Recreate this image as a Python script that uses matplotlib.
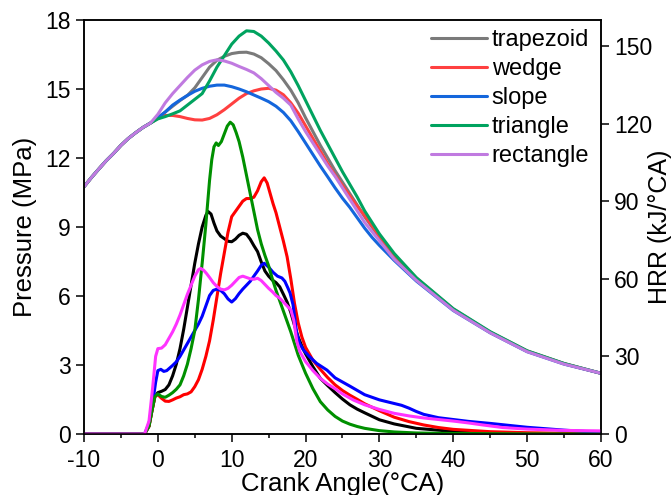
import matplotlib
matplotlib.use("Agg")
import matplotlib.pyplot as plt
from matplotlib.ticker import MultipleLocator
import numpy as np

plt.rcParams['font.family'] = ['Liberation Sans', 'DejaVu Sans']
plt.rcParams['axes.unicode_minus'] = False

# ---------------- Pressure data (MPa) ----------------
p_common_x = [-10, -9, -8, -7, -6, -5, -4, -3, -2, -1]
p_common = [10.75, 11.15, 11.52, 11.88, 12.2, 12.55, 12.85, 13.1, 13.33, 13.52]

p_x = [0, 1, 2, 3, 4, 5, 6, 7, 8, 9, 10, 11, 12, 13, 14, 15, 16, 17, 18, 19,
       20, 21, 22, 23, 24, 25, 26, 27, 28, 29, 30, 32, 35, 40, 45, 50, 55, 60]

p_trapezoid = [13.75, 14.0, 14.25, 14.5, 14.72, 15.05, 15.5, 15.95, 16.25, 16.42,
               16.54, 16.59, 16.6, 16.52, 16.36, 16.1, 15.8, 15.4, 14.95, 14.4,
               13.75, 13.15, 12.55, 12.0, 11.45, 10.95, 10.45, 9.95, 9.45, 9.0,
               8.55, 7.75, 6.75, 5.42, 4.42, 3.6, 3.06, 2.64]
p_wedge = [13.72, 13.85, 13.85, 13.8, 13.72, 13.66, 13.65, 13.72, 13.88, 14.1,
           14.35, 14.6, 14.8, 14.92, 15.0, 15.03, 14.95, 14.75, 14.4, 13.95,
           13.4, 12.85, 12.3, 11.75, 11.25, 10.8, 10.35, 9.9, 9.5, 9.05,
           8.6, 7.8, 6.78, 5.43, 4.43, 3.61, 3.06, 2.64]
p_slope = [13.75, 14.0, 14.3, 14.52, 14.72, 14.9, 15.03, 15.12, 15.17, 15.17,
           15.1, 15.0, 14.88, 14.74, 14.6, 14.45, 14.25, 13.98, 13.62, 13.15,
           12.65, 12.15, 11.65, 11.18, 10.7, 10.25, 9.85, 9.4, 8.95, 8.55,
           8.2, 7.55, 6.65, 5.37, 4.4, 3.58, 3.04, 2.64]
p_triangle = [13.7, 13.8, 13.92, 14.05, 14.3, 14.55, 14.8, 15.35, 15.95, 16.45,
              16.95, 17.3, 17.53, 17.5, 17.3, 17.0, 16.65, 16.26, 15.75, 15.15,
              14.5, 13.85, 13.2, 12.6, 12.0, 11.4, 10.85, 10.3, 9.7, 9.2,
              8.7, 7.85, 6.8, 5.45, 4.45, 3.62, 3.07, 2.64]
p_rectangle = [13.9, 14.4, 14.8, 15.15, 15.5, 15.82, 16.05, 16.2, 16.27, 16.22,
               16.12, 15.98, 15.85, 15.7, 15.45, 15.15, 14.85, 14.6, 14.3, 13.7,
               13.15, 12.65, 12.15, 11.65, 11.2, 10.7, 10.2, 9.7, 9.2, 8.8,
               8.4, 7.6, 6.68, 5.38, 4.4, 3.58, 3.04, 2.64]

# ---------------- HRR data (kJ/°CA) ----------------
h_trap_x = [-10, -1.8, -1.2, -0.8, -0.4, 0, 0.5, 1, 1.5, 2, 2.5, 3, 3.5, 4, 4.5, 5,
            5.5, 6, 6.5, 6.8, 7.2, 7.6, 8, 8.5, 9, 9.5, 10, 10.5, 11, 11.5, 12,
            12.5, 13, 13.5, 14, 14.5, 15, 15.5, 16, 16.5, 17, 17.5, 18, 18.5, 19,
            19.5, 20, 21, 22, 23, 24, 25, 26, 27, 28, 30, 32, 35, 40, 45, 50, 60]
h_trap = [0, 0, 3, 9, 14.5, 16, 16.5, 17.2, 19, 22.5, 27, 33, 40.5, 49, 57.5, 66,
          73.5, 80, 84.5, 86, 85, 81.5, 78.5, 76.5, 75.5, 74.5, 74.3, 75.3, 76.8, 77.6, 77.2,
          75.3, 72.8, 70.5, 66.5, 63, 61, 59.5, 58.5, 56.9, 54, 51, 47, 42, 37.5,
          34, 31, 26, 21.5, 18.7, 16, 13.5, 11.3, 9.6, 8.2, 5.5, 3.9, 2.2, 1.0, 0.4, 0.2, 0]

h_wedge_x = [-10, -1.8, -1.2, -0.8, -0.4, 0, 0.5, 1, 1.5, 2, 2.5, 3, 3.5, 4, 4.5, 5,
             5.5, 6, 6.5, 7, 7.5, 8, 8.5, 9, 9.5, 10, 10.5, 11, 11.5, 12, 12.5, 13,
             13.5, 14, 14.4, 14.8, 15.2, 15.6, 16, 16.5, 17, 17.5, 18, 18.5, 19,
             19.5, 20, 21, 22, 23, 24, 25, 26, 27, 28, 30, 32, 34, 36, 38, 40, 45,
             50, 55, 60]
h_wedge = [0, 0, 3, 9, 14.5, 15.2, 13.8, 12.7, 12.6, 13.2, 13.9, 14.4, 15.2, 15.5, 16.3, 18.3,
           21, 25, 30, 36, 44, 53, 62, 70, 78, 84, 86, 88, 90, 91, 91, 91.5,
           94, 97.5, 99, 97, 93, 89, 85.5, 80, 74.5, 68.5, 60, 50.5, 43,
           37.5, 33.5, 28.5, 25, 21.8, 19, 16.8, 15, 13.4, 11.7, 9, 6.5, 4.8, 3.5, 2.5, 1.8, 0.9,
           0.5, 0.3, 0.2]

h_slope_x = [-10, -1.8, -1.2, -0.7, -0.3, 0, 0.4, 0.8, 1.2, 1.6, 2, 2.5, 3, 3.5, 4, 4.5,
             5, 5.5, 6, 6.5, 7, 7.5, 8, 8.5, 9, 9.5, 10, 10.5, 11, 11.5, 12, 12.5,
             13, 13.5, 14, 14.4, 15, 15.6, 16.2, 16.8, 17.2, 17.6, 17.9, 18.3, 18.8,
             19.2, 19.7, 20.5, 21.5, 22.9, 24, 26, 28, 30, 31, 32, 33, 34, 35, 36,
             38, 40, 42, 45, 47, 50, 55, 60]
h_slope = [0, 0, 4, 12, 20, 24.5, 25, 24.2, 24.5, 25.5, 26.5, 27.9, 30, 32.5, 35, 37.5,
           40, 42.5, 45.5, 49.5, 53.5, 55.5, 56, 55.5, 54.2, 52.2, 51, 52.3, 54.3, 56, 57.5, 59,
           61, 63, 65.2, 66, 64.5, 62.5, 61, 60.3, 59, 56.5, 54.5, 50, 39,
           35, 32.5, 30, 27.3, 24.7, 21.7, 18.5, 15.2, 13.2, 12.5, 11.8, 11.1, 10, 8.7, 7.6,
           6.3, 5.6, 4.9, 4.1, 3.5, 2.6, 1.5, 0.6]

h_tri_x = [-10, -1.8, -1.2, -0.8, -0.4, 0, 0.5, 1, 1.5, 2, 2.5, 3, 3.5, 4, 4.5, 5,
           5.5, 6, 6.5, 7, 7.3, 7.6, 7.9, 8.2, 8.6, 9, 9.4, 9.8, 10.2, 10.6, 11,
           11.5, 12, 12.5, 13, 13.5, 14, 14.5, 15, 15.5, 16, 16.5, 17, 17.5, 18,
           18.5, 19, 19.5, 20, 21, 22, 23, 24, 25, 26, 27, 28, 30, 32, 35, 40, 50, 60]
h_triangle = [0, 0, 3, 9, 14.5, 15.5, 14.5, 14.2, 15, 16, 17.3, 19, 22.5, 27, 33, 40,
              52, 66, 81, 98, 106, 111, 112.5, 111.5, 113, 116, 119, 120.5, 119.5, 116.5, 113,
              107, 100, 93, 86, 79, 73.5, 69, 65, 60, 55.5, 51.5, 47.5, 43.5, 39.5,
              35, 30.5, 27, 23.5, 17.5, 12.5, 9.3, 6.8, 5, 3.8, 2.9, 2.2, 1.3, 0.8, 0.4, 0.2, 0.05, 0]

h_rect_x = [-10, -1.8, -1.2, -0.7, -0.3, 0, 0.5, 1, 1.5, 2, 2.5, 3, 3.5, 4, 4.5, 5,
            5.5, 5.8, 6.2, 6.6, 7, 7.5, 8, 8.5, 9, 9.5, 10, 10.5, 11, 11.5, 12, 12.5,
            13, 13.5, 14, 14.5, 15, 15.5, 16, 16.5, 17, 17.5, 18, 18.4, 18.8, 19.2,
            20, 21, 22, 23, 24, 25, 26.5, 28, 30, 32, 34, 36, 38, 40, 42, 44, 46.7,
            50, 55, 60]
h_rectangle = [0, 0, 5, 18, 30, 33, 33.2, 34.5, 37, 39.5, 42.5, 46, 50, 54, 57.5, 61,
               63.5, 64, 63.3, 62, 60.5, 58.5, 57, 56, 55.7, 56.3, 57.5, 59, 60.5, 61, 60.5, 60,
               59.8, 60.2, 59.3, 57.8, 56.3, 55, 53.5, 52.5, 51, 49.5, 48, 44, 36, 32,
               28, 24.5, 21.5, 19.3, 17.5, 15.5, 13.1, 11.3, 9.5, 8.0, 7.0, 6.2, 5.6, 5.0, 4.3, 3.5, 2.5,
               1.9, 1.4, 1.2]

labels = ['trapezoid', 'wedge', 'slope', 'triangle', 'rectangle']
p_colors = ['#7a7a7a', '#ff4040', '#1466dc', '#00a35f', '#c07ae0']
h_colors = ['#000000', '#ff0000', '#0000ff', '#009000', '#ff33ff']

x_ticks = [-10, 0, 10, 20, 30, 40, 50, 60]
p_ticks = [0, 3, 6, 9, 12, 15, 18]
h_ticks = [0, 30, 60, 90, 120, 150]

fig = plt.figure(figsize=(6.72, 4.95), dpi=100)
ax = fig.add_axes([0.125, 0.1232, 0.7693, 0.8364])
ax2 = ax.twinx()

p_series = [p_trapezoid, p_wedge, p_slope, p_triangle, p_rectangle]
handles = []
for lab, col, ys in zip(labels, p_colors, p_series):
    h, = ax.plot(p_common_x + p_x, p_common + ys, color=col, lw=2.2, label=lab,
                 solid_joinstyle='round', solid_capstyle='round')
    handles.append(h)

h_series = [(h_trap_x, h_trap), (h_wedge_x, h_wedge), (h_slope_x, h_slope),
            (h_tri_x, h_triangle), (h_rect_x, h_rectangle)]
for col, (xs, ys) in zip(h_colors, h_series):
    ax2.plot(xs, ys, color=col, lw=2.2, solid_joinstyle='round', solid_capstyle='round')

ax.set_xlim(-10, 60)
ax.set_ylim(0, 18)
ax2.set_ylim(0, 160)
ax.set_xticks(x_ticks)
ax.xaxis.set_minor_locator(MultipleLocator(5))
ax.set_yticks(p_ticks)
ax2.set_yticks(h_ticks)

for a in (ax, ax2):
    for s in a.spines.values():
        s.set_linewidth(1.1)
ax.tick_params(axis='both', which='major', direction='out', length=5.5, width=1.1,
               labelsize=16.5, pad=4)
ax.tick_params(axis='x', which='minor', direction='out', length=3, width=1.1)
ax.tick_params(axis='x', which='major', pad=5)
ax2.tick_params(axis='y', which='major', direction='out', length=5.5, width=1.1,
                labelsize=16.5, pad=4)

ax.set_xlabel('Crank Angle(°CA)', fontsize=18.5, labelpad=0)
ax.set_ylabel('Pressure (MPa)', fontsize=18.5, labelpad=6)
ax2.set_ylabel('HRR (kJ/°CA)', fontsize=18, labelpad=-3.5)

ax.legend(handles=handles, loc='upper right', frameon=False, fontsize=17,
          handlelength=2.35, handletextpad=0.22, labelspacing=0.3,
          borderaxespad=0.05, bbox_to_anchor=(0.998, 1.004))

fig.savefig('out.png', dpi=100)
